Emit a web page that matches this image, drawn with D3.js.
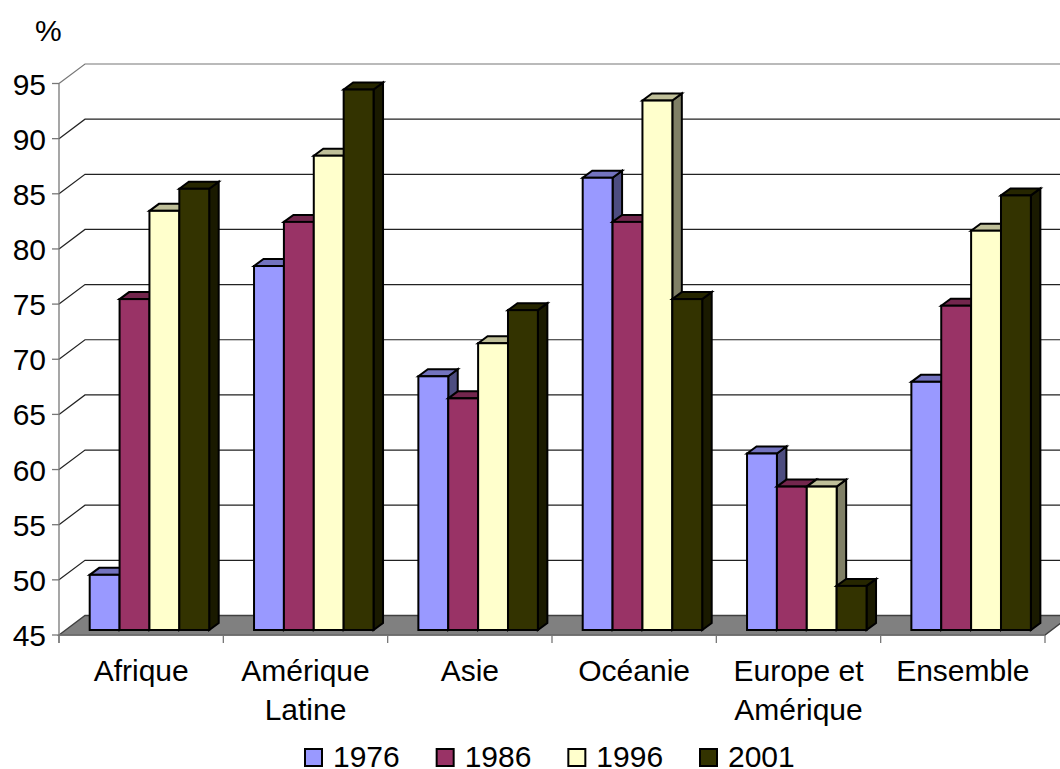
<!DOCTYPE html>
<html><head><meta charset="utf-8">
<script src="https://cdn.jsdelivr.net/npm/d3@7"></script>
<style>html,body{margin:0;background:#fff}svg{display:block}text{font-family:"Liberation Sans",Arial,sans-serif;fill:#000}</style>
</head><body><svg id="c" width="1060" height="769"></svg>
<script>
const categories = [["Afrique"],["Amérique","Latine"],["Asie"],["Océanie"],["Europe et","Amérique"],["Ensemble"]];
const years = ["1976","1986","1996","2001"];
const v1976 = [50,78,68,86,61,67.5];
const v1986 = [75,82,66,82,58,74.4];
const v1996 = [83,88,71,93,58,81.2];
const v2001 = [85,94,74,75,49,84.4];
const seriesValues = [v1976,v1986,v1996,v2001];
const ticks = [45,50,55,60,65,70,75,80,85,90,95];
const fronts = ["#9999FF","#993366","#FFFFCC","#333300"];
const tops = ["#7373BF","#73264D","#BFBF99","#262600"];
const sides = ["#4D4D80","#4D1A33","#808066","#1A1A00"];

const svg = d3.select("#c");
const y = d3.scaleLinear().domain([45,95]).range([635,83.5]);
const x = d3.scaleBand().domain(d3.range(categories.length)).range([59,1045]);
const inner = d3.scaleBand().domain(d3.range(4)).range([30.7,150.2]);
const wall = {dx:26,dy:-19.5}, bar = {dx:9.5,dy:-7}, baseLift = 5;

// gridlines (wall)
svg.append("g").selectAll("path").data(ticks.slice(1)).join("path")
  .attr("d",d=>`M59,${y(d)}L${59+wall.dx},${y(d)+wall.dy}H1060`)
  .attr("fill","none").attr("stroke",d=>d===95?"#777":"#222").attr("stroke-width",1.2);

// floor
const fy = y(45);
svg.append("path").attr("d",`M59,${fy}L${59+wall.dx},${fy+wall.dy}H1071L1045,${fy}Z`)
  .attr("fill","#808080").attr("stroke","#404040").attr("stroke-width",1.4);

// bars
const gBars = svg.append("g").attr("stroke","#000").attr("stroke-width",2).attr("stroke-linejoin","miter");
categories.forEach((c,i)=>{
  seriesValues.forEach((vals,s)=>{
    const x0 = x(i)+inner(s), w = inner.bandwidth();
    const t = y(vals[i])-baseLift, b = y(45)-baseLift;
    gBars.append("path").attr("fill",sides[s])
      .attr("d",`M${x0+w},${t}l${bar.dx},${bar.dy}V${b+bar.dy}L${x0+w},${b}Z`);
    gBars.append("path").attr("fill",tops[s])
      .attr("d",`M${x0},${t}l${bar.dx},${bar.dy}h${w}l${-bar.dx},${-bar.dy}Z`);
    gBars.append("rect").attr("fill",fronts[s]).attr("x",x0).attr("y",t).attr("width",w).attr("height",b-t);
  });
});

// axes
const axisColor="#777";
svg.append("line").attr("x1",59).attr("x2",59).attr("y1",y(95)).attr("y2",y(45)+8).attr("stroke",axisColor).attr("stroke-width",1.3);
svg.append("line").attr("x1",59).attr("x2",1045).attr("y1",y(45)).attr("y2",y(45)).attr("stroke",axisColor).attr("stroke-width",1.3);
svg.append("g").selectAll("line").data(ticks).join("line")
  .attr("x1",52).attr("x2",59).attr("y1",d=>y(d)).attr("y2",d=>y(d)).attr("stroke",axisColor).attr("stroke-width",1.3);
svg.append("g").selectAll("text").data(ticks).join("text")
  .attr("x",46).attr("y",d=>y(d)+11).attr("text-anchor","end").attr("font-size",30).text(d=>d);
svg.append("g").selectAll("line").data(d3.range(categories.length+1)).join("line")
  .attr("x1",d=>59+d*x.step()).attr("x2",d=>59+d*x.step()).attr("y1",y(45)).attr("y2",y(45)+8)
  .attr("stroke",axisColor).attr("stroke-width",1.3);

// category labels
categories.forEach((c,i)=>{
  c.forEach((line,j)=>{
    svg.append("text").attr("x",x(i)+x.bandwidth()/2).attr("y",681+j*39)
      .attr("text-anchor","middle").attr("font-size",30).text(line);
  });
});

svg.append("text").attr("x",35).attr("y",41).attr("font-size",30).text("%");

// legend
const legendX = d3.scalePoint().domain(years).range([305,700]);
const lg = svg.append("g").selectAll("g").data(years).join("g")
  .attr("transform",d=>`translate(${legendX(d)},749)`);
lg.append("rect").attr("width",17).attr("height",17).attr("fill",(d,i)=>fronts[i]).attr("stroke","#000").attr("stroke-width",2);
lg.append("text").attr("x",28).attr("y",18).attr("font-size",30).text(d=>d);
</script></body></html>
